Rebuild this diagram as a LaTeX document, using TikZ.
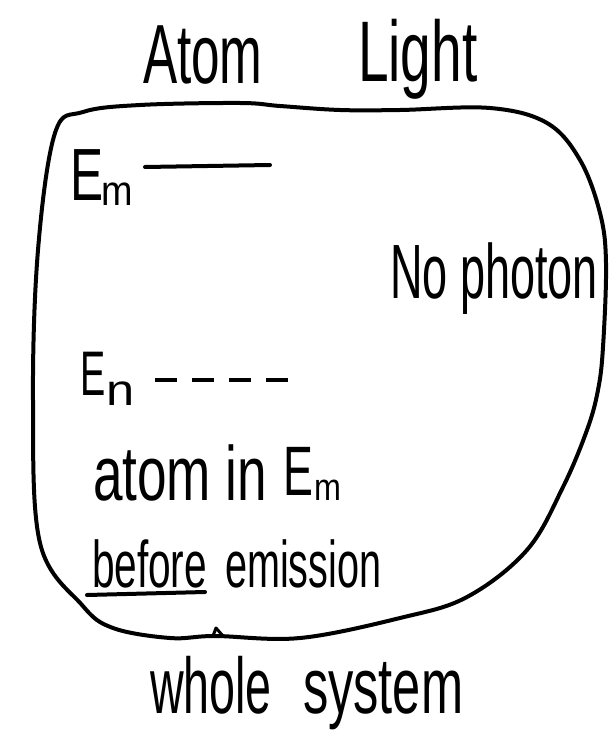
\documentclass[tikz,border=0pt]{standalone}
\usepackage{fontspec}
\newfontfamily\hand{Liberation Sans}
\newcommand\hw[3]{{\hand\fontsize{#1}{#1}\selectfont\scalebox{#2}[1]{#3}}}
\begin{document}
\begin{tikzpicture}[x=1pt,y=-1pt,
  txt/.style={inner sep=0pt,outer sep=0pt,anchor=base west},
  stroke/.style={line width=4pt,line cap=round,line join=round}]
\useasboundingbox (0,0) rectangle (608,754);
% titles
\node[txt] (atom) at (143,84) {\hw{84}{0.61}{Atom}};
\node[txt] (light) at (358,82) {\hw{86}{0.64}{Light}};
% system boundary
\draw[stroke] plot[smooth cycle, tension=0.6] coordinates {
  (83,112) (140,105) (240,103) (280,106) (340,110) (400,110) (490,108)
  (547,123) (580,160) (600,213) (606,263) (603,347) (598,390) (587,430)
  (563,487) (527,550) (467,597) (400,618) (300,638) (215,636) (170,638)
  (113,628) (82,605) (40,543) (33,400) (38,250) (55,133)};
\coordinate (bumpA) at (213,636);
\coordinate (bumpB) at (216,628);
\coordinate (bumpC) at (223,636);
\draw[line width=3pt,line join=round] (bumpA) -- (bumpB) -- (bumpC);
% upper level
\node[txt] (Em) at (70,200) {\hw{74}{0.67}{E}};
\node[txt] (Emsub) at (101,205) {\hw{42}{0.9}{m}};
\coordinate (mA) at (145,167);
\coordinate (mB) at (270,165);
\draw[stroke] (mA) -- (mB);
% light
\node[txt] (nophoton) at (390,298) {\hw{77}{0.585}{No photon}};
% lower level
\node[txt] (En) at (80,395) {\hw{63}{0.6}{E}};
\node[txt] (Ensub) at (106,405) {\hw{44}{1.15}{n}};
\coordinate (nA) at (155,380);
\coordinate (nB) at (288,380);
\draw[line width=4pt,dash pattern=on 22pt off 15pt] (nA) -- (nB);
% description
\node[txt] (atomin) at (93,500) {\hw{77}{0.69}{atom in}};
\node[txt] (Em2) at (283,495) {\hw{70}{0.64}{E}};
\node[txt] (Em2sub) at (314,500) {\hw{38}{0.85}{m}};
\node[txt] (before) at (92,587) {\hw{66}{0.615}{before}};
\node[txt] (emission) at (225,587) {\hw{66}{0.60}{emission}};
\coordinate (ulA) at (87,595);
\coordinate (ulB) at (205,592);
\draw[stroke] (ulA) -- (ulB);
% caption
\node[txt] (whole) at (150,713) {\hw{79}{0.59}{whole}};
\node[txt] (system) at (303,713) {\hw{79}{0.64}{system}};
\end{tikzpicture}
\end{document}
